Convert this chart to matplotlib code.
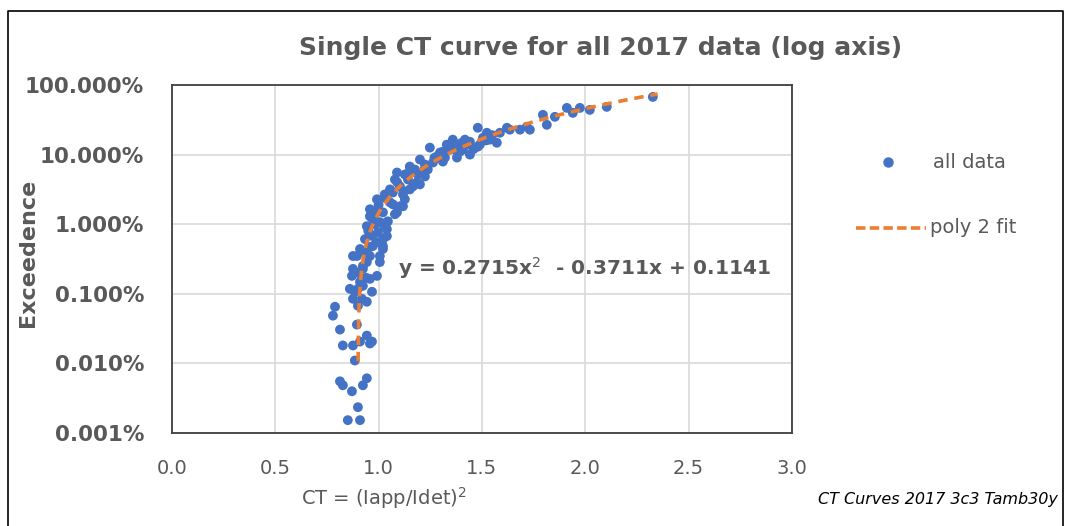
import numpy as np
import matplotlib.pyplot as plt
from matplotlib.lines import Line2D
from matplotlib.ticker import FuncFormatter

# CT = (Iapp/Idet)^2 for each sample, with its exceedence in percent
ct = [
    2.327, 2.104, 2.022, 1.974, 1.940, 1.911, 1.795, 1.814, 1.717, 1.732,
    1.635, 1.621, 1.587, 1.572, 1.524, 1.480, 1.505, 1.480, 1.490, 1.442,
    1.427, 1.408, 1.393, 1.359, 1.355, 1.330, 1.379, 1.321, 1.311, 1.248,
    1.297, 1.311, 1.263, 1.224, 1.151, 1.089, 1.190, 1.142, 1.224, 1.103,
    1.166, 1.069, 1.118, 0.992, 1.055, 1.103, 0.958, 1.021, 1.089, 0.943,
    1.006, 1.045, 0.972, 1.021, 1.040, 0.958, 1.021, 0.876, 1.185, 1.403,
    0.997, 1.040, 0.992, 0.958, 1.040, 1.118, 1.021, 0.895, 0.958, 1.006,
    0.876, 0.924, 0.871, 0.958, 0.861, 0.924, 0.876, 0.943, 0.900, 0.789,
    0.779, 0.813, 0.827, 0.876, 0.895, 0.943, 0.958, 0.885, 0.813, 0.827,
    0.871, 0.924, 0.943, 0.900, 0.851, 0.910, 0.910, 0.968, 0.992, 1.006,
    0.972, 0.924, 0.910, 0.885, 0.943, 1.079, 1.030, 1.127, 1.176, 1.055,
    0.982, 1.069, 1.030, 1.282, 1.200, 1.345, 1.442, 1.538, 1.684, 1.853,
    0.910, 0.934, 0.982, 0.919, 0.900, 0.968, 1.079, 1.127, 1.151, 1.200,
    1.238, 1.369, 1.418, 0.950, 0.970, 1.000, 1.030, 1.060, 1.090, 1.120,
    1.150, 1.220, 1.270, 1.300, 1.340, 1.390, 1.460, 1.520, 1.550, 0.930,
    0.990, 0.900, 0.940,
]
exceed_pct = [
    67.4, 48.5, 43.9, 46.9, 39.8, 46.9, 37.3, 26.8, 25.1, 22.8,
    22.8, 24.3, 20.6, 14.8, 20.6, 24.3, 17.5, 13.0, 13.9, 15.3,
    13.9, 11.8, 11.0, 16.4, 13.0, 13.9, 9.06, 9.06, 11.0, 12.6,
    10.7, 7.94, 7.69, 7.20, 6.74, 5.53, 5.18, 4.39, 4.85, 3.49,
    3.49, 2.86, 2.68, 2.28, 2.06, 1.81, 1.64, 1.48, 1.48, 0.936,
    1.07, 1.10, 0.674, 0.610, 0.849, 0.469, 0.440, 0.349, 3.98, 14.8,
    0.769, 0.674, 1.64, 1.30, 1.07, 1.81, 0.485, 0.349, 0.349, 0.286,
    0.228, 0.228, 0.181, 0.164, 0.118, 0.130, 0.0848, 0.0769, 0.0674, 0.0652,
    0.0485, 0.0306, 0.0181, 0.0181, 0.0361, 0.0251, 0.0193, 0.0110, 0.00553, 0.00485,
    0.00398, 0.00485, 0.00611, 0.00235, 0.00153, 0.00153, 0.0206, 0.0206, 0.181, 0.349,
    0.485, 0.251, 0.148, 0.107, 0.286, 4.39, 2.68, 5.18, 6.10, 3.16,
    1.39, 1.93, 0.91, 9.36, 8.49, 11.8, 10.0, 16.4, 22.8, 34.9,
    0.440, 0.610, 1.00, 0.0848, 0.118, 0.107, 1.39, 2.28, 3.16, 3.73,
    6.10, 11.8, 16.4, 0.80, 1.20, 1.90, 2.40, 3.00, 4.00, 3.00,
    5.80, 6.00, 9.00, 9.80, 12.5, 14.0, 12.0, 16.0, 19.0, 0.40,
    0.55, 0.20, 0.17,
]

# poly 2 trendline coefficients (exceedence as a fraction)
fit_coef = [0.2715, -0.3711, 0.1141]
fit_label = "y = 0.2715x$^2$  - 0.3711x + 0.1141"

GRAY = "#595959"
BLUE = "#4472C4"
ORANGE = "#ED7D31"

fig = plt.figure(figsize=(10.7, 5.26), dpi=100)
ax = fig.add_axes([0.1607, 0.1768, 0.5794, 0.6616])

y_data = np.array(exceed_pct) / 100.0
ax.scatter(ct, y_data, s=50, color=BLUE, edgecolors="none", zorder=3)

xf = np.linspace(0.9007, 2.35, 500)
yf = np.polyval(fit_coef, xf)
keep = yf >= 1e-4
ax.plot(xf[keep], yf[keep], color=ORANGE, lw=2.6, ls=(0, (2.6, 1.9)), zorder=4)

ax.set_yscale("log")
ax.set_ylim(1e-5, 1)
ax.set_xlim(0, 3)
ax.set_xticks(np.arange(0, 3.01, 0.5))
ax.set_yticks([1e-5, 1e-4, 1e-3, 1e-2, 1e-1, 1])
ax.minorticks_off()
ax.yaxis.set_major_formatter(FuncFormatter(lambda v, p: f"{v * 100:.3f}%"))
ax.xaxis.set_major_formatter(FuncFormatter(lambda v, p: f"{v:.1f}"))
ax.grid(True, color="#d9d9d9", lw=1.2)
ax.set_axisbelow(True)
ax.tick_params(axis="y", length=0, pad=20)
ax.tick_params(axis="x", length=0, pad=19)
for lbl in ax.get_yticklabels():
    lbl.set_fontsize(15.5)
    lbl.set_fontweight("bold")
    lbl.set_color(GRAY)
for lbl in ax.get_xticklabels():
    lbl.set_fontsize(14)
    lbl.set_color(GRAY)
for sp in ax.spines.values():
    sp.set_color("#404040")
    sp.set_linewidth(1.3)

fig.text(0.026, 0.519, "Exceedence", rotation=90, fontsize=16, fontweight="bold",
         color=GRAY, ha="center", va="center")
fig.text(0.359, 0.053, "CT = (Iapp/Idet)$^2$", fontsize=14, color=GRAY,
         ha="center", va="center")

ax.text(0.365, 0.474, fit_label, transform=ax.transAxes, fontsize=14.5,
        fontweight="bold", color=GRAY, va="center", ha="left")

fig.text(0.561, 0.908, "Single CT curve for all 2017 data (log axis)",
         fontsize=18, fontweight="bold", color=GRAY, ha="center", va="center")

# legend on the right
fig.add_artist(Line2D([0.830], [0.692], marker="o", ms=6.5, color=BLUE, ls="none"))
fig.text(0.872, 0.692, "all data", fontsize=14, color=GRAY, va="center")
fig.add_artist(Line2D([0.800, 0.865], [0.567, 0.567], color=ORANGE, lw=2.6,
                      ls=(0, (2.6, 1.2))))
fig.text(0.869, 0.567, "poly 2 fit", fontsize=14, color=GRAY, va="center")

fig.text(0.989, 0.050, "CT Curves 2017 3c3 Tamb30y", fontsize=11.5,
         style="italic", color="black", ha="right", va="center")

# outer chart frame
fig.add_artist(Line2D([0.0075, 0.0075, 0.993, 0.993], [0.0, 0.979, 0.979, 0.0],
                      color="black", lw=1.2))

fig.savefig("out.png", dpi=100)
